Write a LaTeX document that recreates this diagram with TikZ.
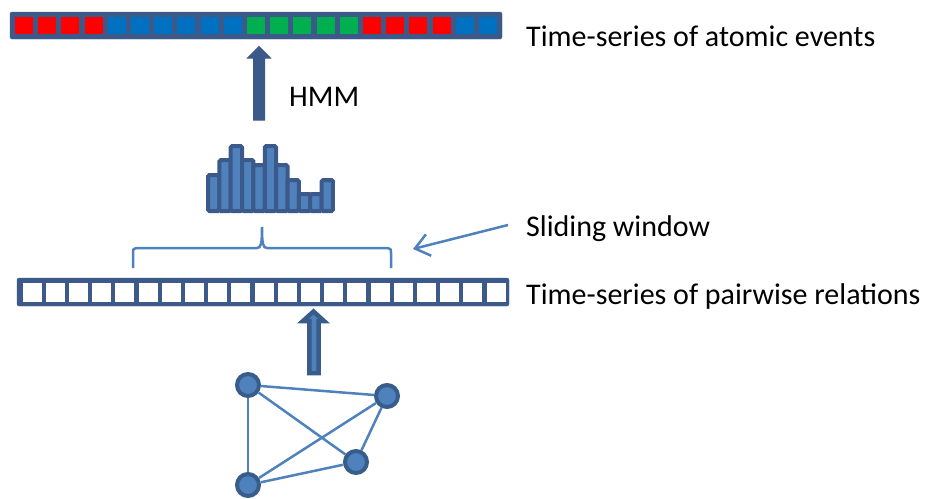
\documentclass[tikz,border=0pt]{standalone}
\usepackage{fontspec}
\setmainfont{Carlito}
\usepackage{tikz}
\usetikzlibrary{arrows.meta, positioning, calc}
\usepackage{xcolor}

\definecolor{evred}{RGB}{255,0,0}
\definecolor{evblue}{RGB}{0,112,192}
\definecolor{evgreen}{RGB}{0,176,80}
\definecolor{bardark}{HTML}{3B5A8A}
\definecolor{nodeblue}{HTML}{4F81BD}
\definecolor{nodedark}{HTML}{385D8A}

\tikzset{
  label text/.style={font=\fontsize{30}{36}\selectfont, anchor=west, inner sep=0pt},
  gnode/.style={circle, fill=nodeblue, draw=nodedark, line width=4pt, minimum size=22pt, inner sep=0pt},
  gedge/.style={draw=nodeblue, line width=2.5pt},
  histbar/.style={fill=nodeblue, draw=bardark, line width=4pt, rounded corners=1.5pt}
}

\begin{document}
\begin{tikzpicture}[x=1pt, y=-1pt]
  \useasboundingbox (0,0) rectangle (925,498);

  % Atomic events bar
  \draw[fill=bardark, draw=bardark, rounded corners=2pt] (10,12) rectangle (502,39);
  \foreach \c [count=\i from 0] in {evred,evred,evred,evred,evblue,evblue,evblue,evblue,evblue,evblue,
      evgreen,evgreen,evgreen,evgreen,evgreen,evred,evred,evred,evred,evblue,evblue}
    \fill[\c] (15+\i*23.2,17) rectangle ++(18,17);
  \node[label text] (atomic) at (526,36) {Time-series of atomic events};

  % HMM arrow
  \draw[fill=bardark, draw=bardark, line width=1pt, line join=miter]
    (253.5,120) -- (253.5,58) -- (247.5,58) -- (259,46.5) -- (270.5,58) -- (264.5,58) -- (264.5,120) -- cycle;
  \node[label text] (hmm) at (289,97) {HMM};

  % Histogram
  \foreach \t [count=\i from 0] in {175,160,146,160,165,146,165,180,194,194,180}
    \draw[histbar] (208+\i*11.36,211) rectangle ++(11.36,\t-211);

  % Sliding window brace
  \draw[draw=nodeblue, line width=2.5pt]
    (133,268) -- (133,253) .. controls (133,249) .. (137,248) -- (257,248)
    .. controls (261,248) and (262,244) .. (262,227)
    .. controls (262,244) and (263,248) .. (267,248) -- (387,248)
    .. controls (391,249) .. (391,253) -- (391,268);
  \coordinate (win) at (413,249);
  \node[label text] (slide) at (526,229) {Sliding window};
  \draw[draw=nodeblue, line width=2.5pt, -{Straight Barb[length=14pt, width=22pt]}]
    ($(slide.west)+(-18,-4)$) -- (win);

  % Pairwise relations bar
  \draw[fill=bardark, draw=bardark, rounded corners=2pt] (17,278) rectangle (509,306);
  \foreach \i in {0,...,20}
    \fill[white] (22.5+\i*23.2,283) rectangle ++(19,19);
  \node[label text] (pairwise) at (526,296) {Time-series of pairwise relations};

  % Graph arrow
  \draw[fill=nodeblue, draw=nodedark, line width=4.5pt, line join=miter]
    (309.3,373) -- (309.3,321) -- (303,321) -- (313.5,311.5) -- (324,321) -- (318.7,321) -- (318.7,373) -- cycle;

  % Graph
  \node[gnode] (n1) at (248,385) {};
  \node[gnode] (n2) at (387,396) {};
  \node[gnode] (n3) at (356,462) {};
  \node[gnode] (n4) at (248,485) {};
  \draw[gedge] (n1) -- (n2);
  \draw[gedge] (n1) -- (n3);
  \draw[gedge] (n1) -- (n4);
  \draw[gedge] (n2) -- (n4);
  \draw[gedge] (n2) -- (n3);
  \draw[gedge] (n3) -- (n4);

\end{tikzpicture}
\end{document}
